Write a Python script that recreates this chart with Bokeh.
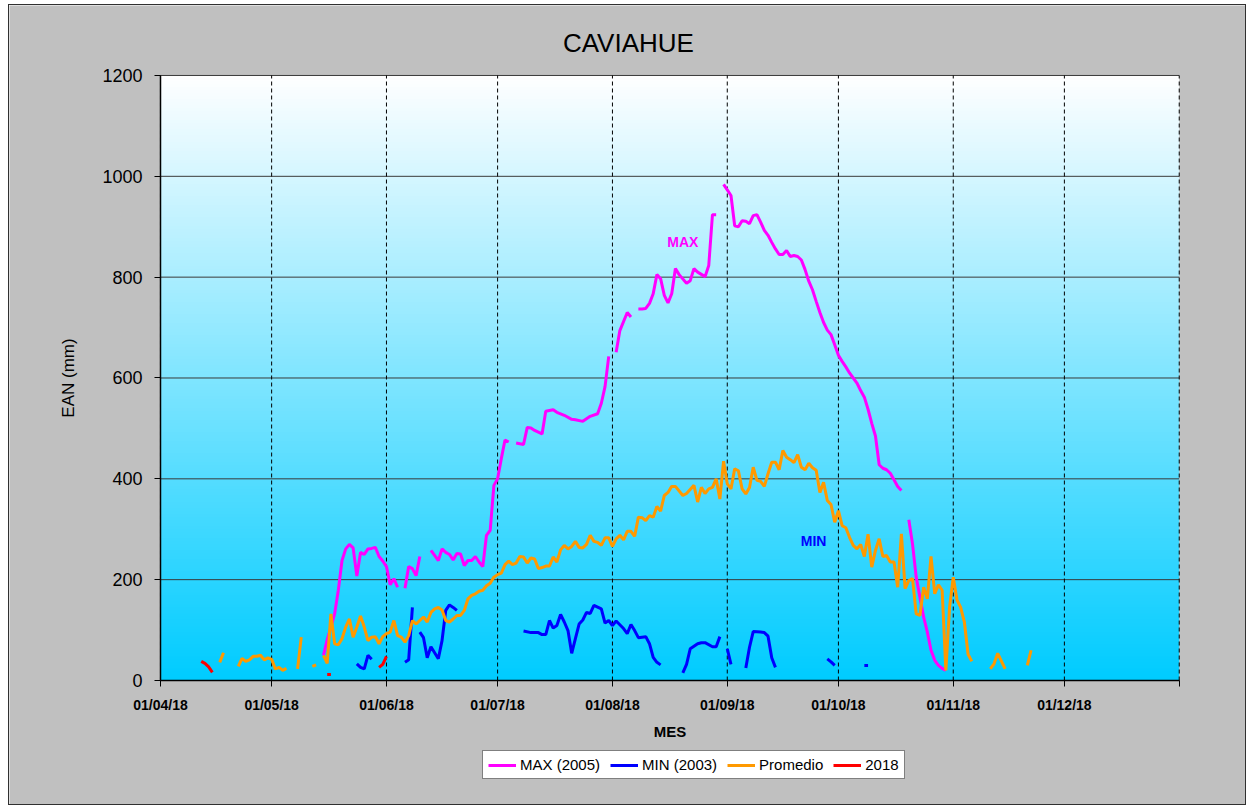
import numpy as np
from bokeh.plotting import figure
from bokeh.models import Range1d, FixedTicker, Label, Legend, LegendItem
from bokeh.embed import file_html
from bokeh.resources import INLINE

N = None

# x = days since 01/04/2018
mes_ticks = [0, 30, 61, 91, 122, 153, 183, 214, 244, 275]
mes_labels = ["01/04/18", "01/05/18", "01/06/18", "01/07/18", "01/08/18",
              "01/09/18", "01/10/18", "01/11/18", "01/12/18", ""]
ean_ticks = [0, 200, 400, 600, 800, 1000, 1200]

# MAX (2005)
max_dia = [44, 45, 46, 47, 48, 49, 50, 51, 52, 53, 54, 55, 56, 57, 58, 59, 60, 61, 62, 63, 64, 65,
           66, 67, 68, 69, 70, 71,
           73, 74, 75, 76, 77, 78, 79, 80, 81, 82, 83, 84, 85, 86, 87, 88, 89, 90, 91, 92, 93, 94, 95,
           96, 98, 99, 100, 101, 103, 104, 106, 107, 109, 111, 112, 114, 116, 118, 119, 120, 121, 122,
           123, 124, 126, 127, 128,
           129, 130, 131, 132, 133, 134, 135, 136, 137, 138, 139, 140, 142, 143, 144, 145, 147, 148, 149, 150, 151,
           152, 153, 154, 155, 156, 157, 158, 159, 160, 161, 162, 163, 164, 165, 166, 167, 168, 169, 170, 171,
           172, 173, 174, 175, 176, 177, 178, 179, 180, 181, 182, 183, 184, 185, 186, 187, 188, 189, 190, 191,
           192, 193, 194, 195, 196, 197, 198, 199, 200, 201,
           202, 203, 204, 205, 206, 207, 208, 209, 210, 211, 212]
max_ean = [50, 81, 106, 132, 179, 238, 261, 270, 263, 207, 254, 250, 261, 262, 264, 246, 237, 226, 190, 202, 185, N,
           183, 226, 222, 208, 246, N,
           258, 248, 238, 261, 254, 250, 239, 252, 251, 228, 238, 238, 246, 235, 226, 288, 298, 387, 400, 440, 477, 473, N,
           471, 468, 502, 501, 496, 489, 534, 537, 532, 526, 518, 517, 514, 524, 529, 550, 583, 643, N,
           651, 694, 730, 721, N,
           737, 737, 738, 748, 767, 805, 797, 764, 749, 767, 817, 805, 788, 793, 817, 810, 801, 823, 924, 924, N,
           984, 973, 962, 902, 900, 912, 911, 906, 922, 924, 909, 893, 883, 869, 856, 845, 845, 853, 841, 843,
           841, 834, 815, 792, 775, 752, 730, 710, 695, 686, 666, 645, 633, 622, 610, 600, 590, 575, 562, 538,
           510, 485, 428, 421, 418, 411, 398, 385, 377, N,
           319, 271, 205, 165, 126, 96, 60, 40, 30, 24, 20]

# MIN (2003)
min_dia = [53, 54, 55, 56, 57, 58,
           66, 67, 68, 69,
           70, 71, 72, 73, 75, 76, 77, 78, 79, 80, 81,
           98, 100, 102, 103, 104, 105, 106, 107, 108, 109, 110, 111, 112, 113, 114, 115, 116, 117,
           119, 120, 121, 122, 123, 125, 126, 127, 128, 129, 131, 132, 133, 134, 135, 136,
           141, 142, 143, 145, 146, 147, 149, 150, 151, 152,
           153, 154, 155,
           158, 159, 160, 162, 163, 164, 165, 166, 167,
           180, 181, 182, 183,
           190, 191]
min_ean = [33, 26, 23, 50, 42, N,
           36, 41, 145, N,
           96, 85, 45, 67, 43, 79, 139, 150, 145, 139, N,
           98, 95, 95, 91, 91, 119, 104, 109, 131, 116, 99, 54, 83, 112, 120, 135, 133, 149,
           142, 114, 119, 109, 118, 103, 93, 111, 99, 85, 87, 73, 46, 36, 31, N,
           15, 32, 63, 73, 75, 75, 67, 67, 87, N,
           63, 32, N,
           25, 66, 97, 96, 95, 88, 45, 26, N,
           43, 37, 30, N,
           30, 30]

# Promedio
prom_dia = [16, 17, 18,
            21, 22, 23, 24, 25, 26, 27, 28, 29, 30, 31, 32, 33, 34, 35,
            37, 38, 39,
            41, 42, 43,
            44, 45, 46, 47, 48, 49, 50, 51, 52, 53, 54, 55, 56, 57, 58, 59, 60, 61, 62, 63,
            64, 65, 66, 67, 68, 69, 70, 71, 72, 73, 74, 75, 76, 77, 78, 79, 80, 81, 82, 83,
            84, 85, 86, 87, 88, 89, 90, 91, 92, 93, 94, 95, 96, 97, 98, 99, 100, 101, 102, 103,
            104, 105, 106, 107, 108, 109, 110, 111, 112, 113, 114, 115, 116, 117, 118, 119, 120, 121, 122, 123,
            124, 125, 126, 127, 128, 129, 130, 131, 132, 133, 134, 135, 136, 137, 138, 139, 141, 142, 144, 145,
            146, 147, 148, 149, 150, 151, 152, 153, 154, 155, 156, 157, 158, 159, 160, 161, 162, 163, 164, 165,
            166, 167, 168, 169, 170, 171, 172, 173, 174, 175, 176, 177, 178, 179, 180, 181, 182, 183, 184, 185,
            186, 187, 188, 189, 190, 191, 192, 193, 194, 195, 196, 197, 198, 199, 200, 201, 202, 203, 204, 205,
            206, 207, 208, 209, 210, 211, 212, 213, 214, 215, 216, 217, 218, 219, 220,
            224, 225, 226, 228, 229,
            234, 235]
prom_ean = [36, 55, N,
            28, 44, 38, 41, 48, 48, 50, 41, 45, 42, 23, 26, 20, 24, N,
            23, 86, N,
            28, 31, N,
            50, 34, 132, 73, 71, 83, 106, 122, 86, 106, 128, 106, 79, 86, 87, 73, 87, 93, 96, 119,
            89, 86, 76, 89, 119, 112, 119, 126, 116, 135, 142, 145, 140, 119, 116, 122, 129, 129, 139, 162,
            169, 172, 177, 179, 188, 193, 205, 210, 213, 230, 237, 230, 233, 246, 245, 233, 243, 241, 222, 224,
            227, 227, 245, 235, 259, 268, 261, 266, 276, 264, 263, 270, 288, 276, 274, 268, 283, 283, 266, 281,
            288, 279, 296, 296, 286, 324, 323, 317, 327, 324, 345, 336, 367, 373, 385, 385, 367, 371, 387, 354,
            383, 371, 380, 383, 400, 360, 435, 390, 380, 420, 416, 380, 370, 383, 423, 397, 395, 385, 410, 433,
            433, 418, 456, 443, 438, 432, 448, 423, 418, 431, 422, 417, 373, 393, 357, 349, 314, 337, 307, 303,
            284, 268, 261, 270, 246, 290, 225, 258, 281, 246, 248, 235, 235, 185, 291, 182, 198, 202, 132, 129,
            185, 162, 246, 172, 190, 179, 20, 145, 205, 160, 145, 116, 52, 38, N,
            23, 33, 54, 23, N,
            30, 60]

# 2018
a2018_dia = [11, 12, 13, 14, 15, 45, 46, 47, 59, 60, 61]
a2018_ean = [38, 34, 27, 16, N, 12, 12, N, 26, 32, 48]


def nanify(v):
    return [float("nan") if a is None else a for a in v]


FONT = "Liberation Sans"

# The frame covers the whole canvas; axes are pinned at 0 and bounded to the data area,
# so that every text (title, tick labels, legend) is drawn inside the frame.
p = figure(width=1238, height=801, x_range=Range1d(-40.76, 293.43), y_range=Range1d(-249.9, 1338.8),
           output_backend="svg", toolbar_location=None, title=None,
           min_border=0, min_border_left=0, min_border_right=0, min_border_top=0, min_border_bottom=0)
p.styles = {"border": "1px solid #303030", "margin-left": "8px", "margin-top": "4px"}
p.background_fill_color = "#C0C0C0"
p.border_fill_color = "#C0C0C0"
p.outline_line_color = None

# gradient background of plot area (white at top -> cyan at bottom)
n = 200
t = np.linspace(0.0, 1.0, n)
img = np.zeros((n, 1), dtype=np.uint32)
view = img.view(dtype=np.uint8).reshape((n, 1, 4))
view[:, 0, 0] = (255 * t).astype(np.uint8)
view[:, 0, 1] = (204 + 51 * t).astype(np.uint8)
view[:, 0, 2] = 255
view[:, 0, 3] = 255
bg = p.image_rgba(image=[img], x=mes_ticks[0], y=ean_ticks[0],
                  dw=mes_ticks[-1] - mes_ticks[0], dh=ean_ticks[-1] - ean_ticks[0])
bg.level = "image"

# grid lines (drawn only over the data area)
p.xgrid.visible = False
p.ygrid.visible = False
n_y = len(ean_ticks)
p.segment(x0=[mes_ticks[0]] * n_y, y0=ean_ticks, x1=[mes_ticks[-1]] * n_y, y1=ean_ticks,
          line_color="#3a3a3a", line_width=1)
n_mes = len(mes_ticks)
p.segment(x0=mes_ticks, y0=[ean_ticks[0]] * n_mes, x1=mes_ticks, y1=[ean_ticks[-1]] * n_mes,
          line_color="black", line_width=1, line_dash="4 3")

# series
r_max = p.line(max_dia, nanify(max_ean), line_color="#FF00FF", line_width=3)
r_min = p.line(min_dia, nanify(min_ean), line_color="#0000FF", line_width=3)
r_prom = p.line(prom_dia, nanify(prom_ean), line_color="#FF9900", line_width=3)
r_18 = p.line(a2018_dia, nanify(a2018_ean), line_color="#FF0000", line_width=3)

# axes
p.xaxis.fixed_location = 0
p.xaxis.bounds = (mes_ticks[0], mes_ticks[-1])
p.xaxis.ticker = FixedTicker(ticks=mes_ticks)
p.xaxis.major_label_overrides = {d: s for d, s in zip(mes_ticks, mes_labels)}
p.xaxis.major_label_text_font = FONT
p.xaxis.major_label_text_font_style = "bold"
p.xaxis.major_label_text_font_size = "14px"
p.xaxis.major_label_text_color = "black"
p.xaxis.major_label_standoff = 10
p.xaxis.axis_label = "MES"
p.xaxis.axis_label_text_font = FONT
p.xaxis.axis_label_text_font_style = "bold"
p.xaxis.axis_label_text_font_size = "15px"
p.xaxis.axis_label_text_color = "black"
p.xaxis.axis_label_standoff = 7

p.yaxis.fixed_location = 0
p.yaxis.bounds = (ean_ticks[0], ean_ticks[-1])
p.yaxis.ticker = FixedTicker(ticks=ean_ticks)
p.yaxis.major_label_text_font = FONT
p.yaxis.major_label_text_font_size = "18px"
p.yaxis.major_label_text_color = "black"
p.yaxis.major_label_standoff = 12
p.yaxis.axis_label = "EAN (mm)"
p.yaxis.axis_label_text_font = FONT
p.yaxis.axis_label_text_font_style = "normal"
p.yaxis.axis_label_text_font_size = "17px"
p.yaxis.axis_label_text_color = "black"
p.yaxis.axis_label_standoff = 21

for ax in (p.xaxis, p.yaxis):
    ax.axis_line_color = "black"
    ax.axis_line_width = 1.5
    ax.major_tick_line_color = "black"
    ax.major_tick_out = 6
    ax.major_tick_in = 0
    ax.minor_tick_line_color = None

# title and in-plot labels
p.add_layout(Label(x=126.3, y=1265, text="CAVIAHUE", text_font=FONT, text_font_size="26px",
                   text_color="black", text_align="center", text_baseline="middle"))
p.add_layout(Label(x=141, y=869, text="MAX", text_font=FONT, text_font_size="14px",
                   text_font_style="bold", text_color="#FF00FF",
                   text_align="center", text_baseline="middle"))
p.add_layout(Label(x=176.3, y=276, text="MIN", text_font=FONT, text_font_size="14px",
                   text_font_style="bold", text_color="#0000FF",
                   text_align="center", text_baseline="middle"))

legend = Legend(items=[LegendItem(label="MAX (2005)", renderers=[r_max]),
                       LegendItem(label="MIN (2003)", renderers=[r_min]),
                       LegendItem(label="Promedio", renderers=[r_prom]),
                       LegendItem(label="2018", renderers=[r_18])],
                location=(473, 27), orientation="horizontal",
                border_line_color="black", border_line_width=1,
                background_fill_color="white", background_fill_alpha=1.0,
                label_text_font=FONT, label_text_font_size="15px", label_text_color="black",
                glyph_width=28, glyph_height=16, label_height=16, label_standoff=4,
                padding=5, spacing=10, margin=0)
p.add_layout(legend, "center")

open("out.html", "w").write(file_html(p, INLINE))
